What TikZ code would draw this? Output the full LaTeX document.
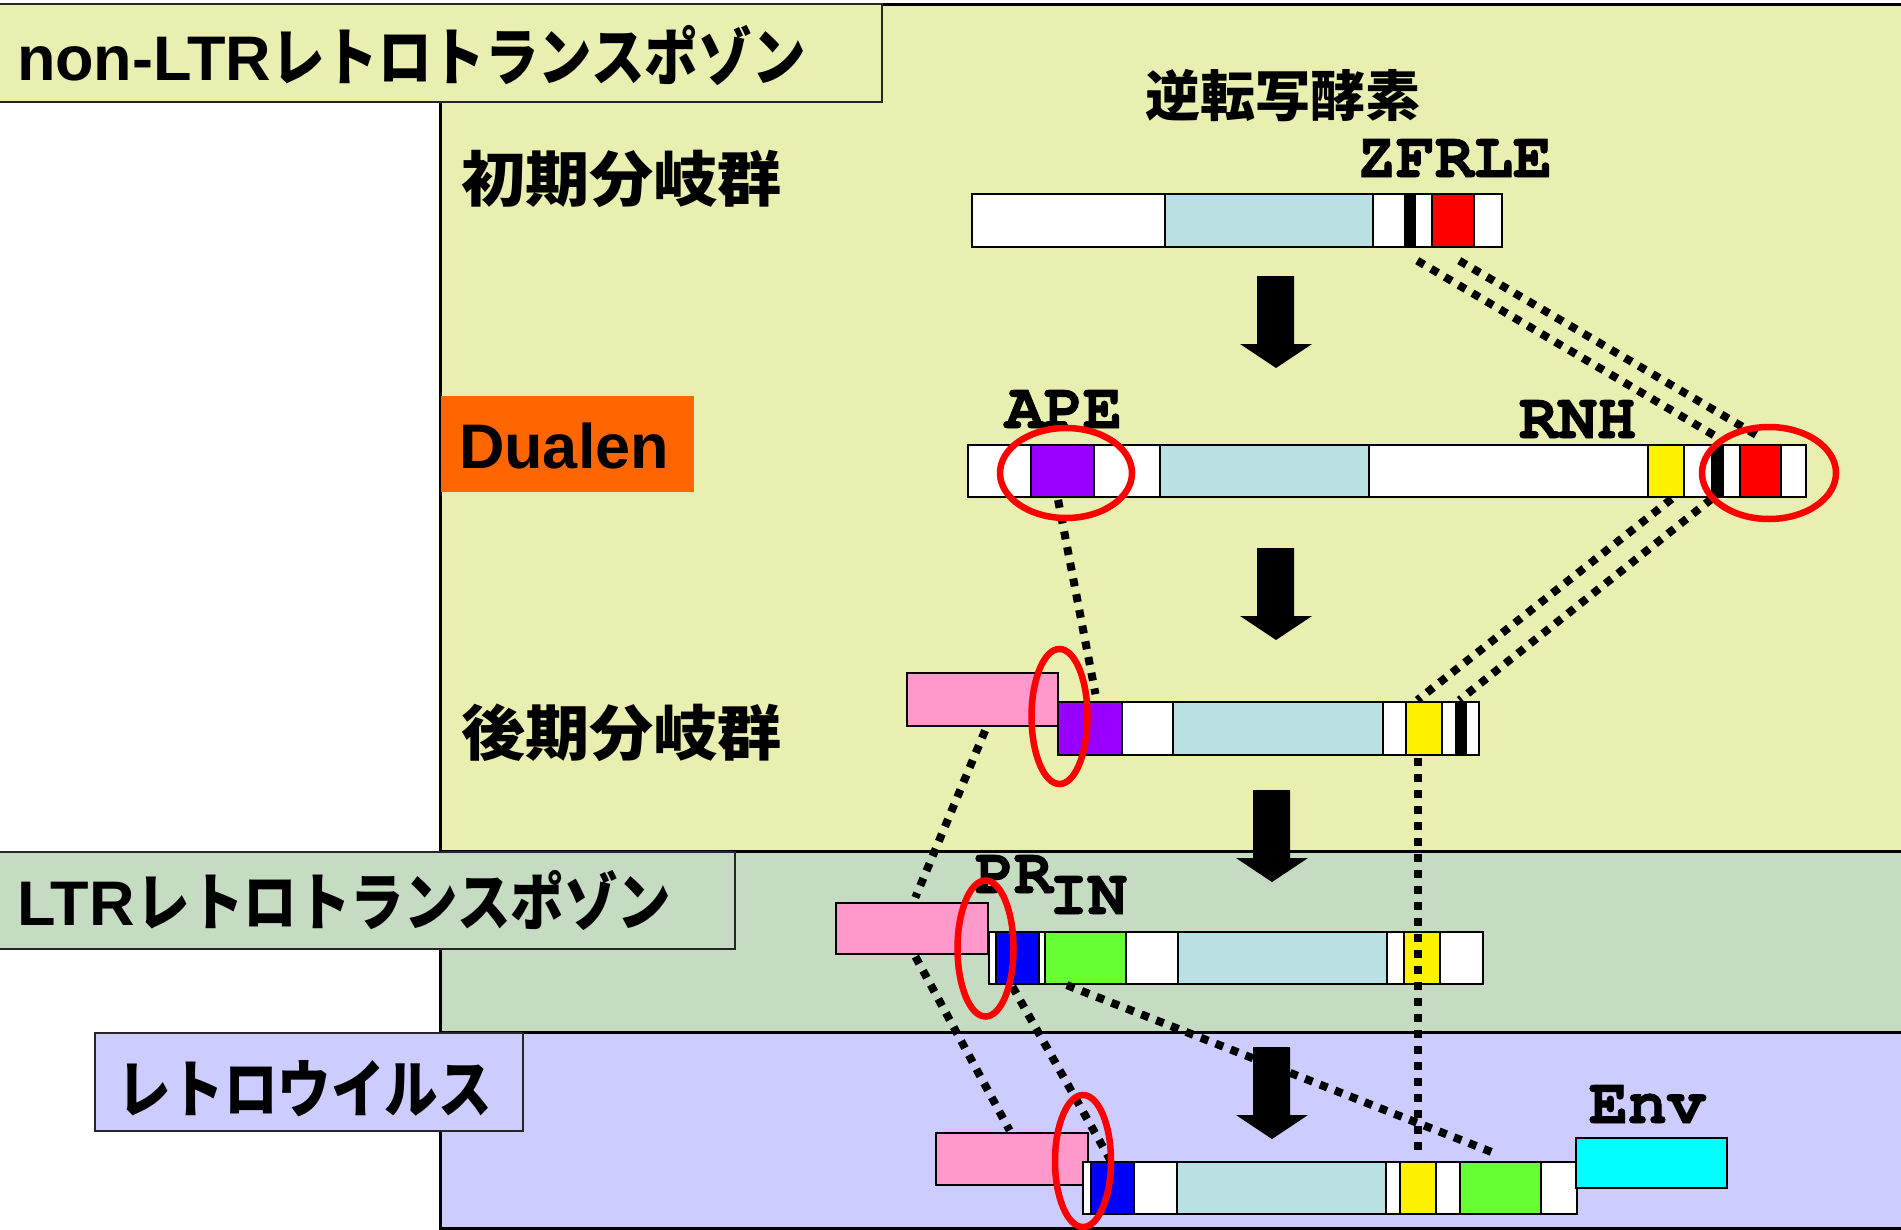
\documentclass[tikz,border=0pt]{standalone}
\usepackage{fontspec}
\setmainfont{Liberation Sans}
\newfontfamily\monofont[FakeBold=1.2]{texgyrecursor-bold.otf}
\newfontfamily\jpn{Noto Sans CJK JP}
\newfontfamily\jpnarrow[FakeStretch=0.85]{Noto Sans CJK JP}
\newfontfamily\jpwide[FakeStretch=1.07]{Noto Sans CJK JP}

\definecolor{ygreen}{HTML}{E9EFB0}
\definecolor{ltrgreen}{HTML}{C5DCC3}
\definecolor{rvblue}{HTML}{CCCCFF}
\definecolor{lblue}{HTML}{B9E0E3}
\definecolor{pinkbox}{HTML}{FF99CC}
\definecolor{purp}{HTML}{9900FF}
\definecolor{dualenorange}{HTML}{FF6600}
\definecolor{limegreen}{HTML}{66FF33}
\definecolor{envcyan}{HTML}{00FFFF}

\tikzset{
  panel/.style={draw=black, line width=3pt},
  labelbox/.style={draw=black!85, line width=2pt},
  seg/.style={draw=black, line width=2pt, inner sep=0pt, outer sep=0pt, anchor=north west},
  dotline/.style={line width=8pt, dash pattern=on 8pt off 8pt},
  redring/.style={draw=red, line width=6.5pt},
  txt/.style={anchor=base west, inner sep=0pt, outer sep=0pt},
  grouptitle/.style={txt, font=\fontsize{63pt}{70pt}\selectfont\bfseries},
  monolabel/.style={txt, font=\fontsize{65pt}{70pt}\selectfont\monofont},
  downarrow/.pic={\fill[black] (-19,0) -- (18,0) -- (18,68) -- (36,68) -- (0,92) -- (-36,68) -- (-19,68) -- cycle;}
}

\begin{document}
\begin{tikzpicture}[x=1pt, y=-1pt]
\useasboundingbox (0,0) rectangle (1901,1229);
\fill[white] (0,0) rectangle (1901,1229);

% background panels for the three groups
\draw[panel, fill=ygreen] (440,4) rectangle (1910,1228);
\draw[panel, fill=ltrgreen] (440,851) rectangle (1910,1032);
\draw[panel, fill=rvblue] (440,1032) rectangle (1910,1228);

% group title boxes
\draw[labelbox, fill=ygreen] (-3,4) rectangle (882,102);
\draw[labelbox, fill=ltrgreen] (-3,852) rectangle (735,949);
\draw[labelbox, fill=rvblue] (95,1033) rectangle (523,1131);
\fill[dualenorange] (441,396) rectangle (694,492);

\node[grouptitle] (ttlnonltr) at (17,80) {non-LTR{\jpnarrow レトロトランスポゾン}};
\node[grouptitle] (ttlltr) at (17,925) {LTR\hspace{2pt}{\jpnarrow レトロトランスポゾン}};
\node[grouptitle] (ttlrv) at (117,1112) {\jpnarrow レトロウイルス};
\node[grouptitle] (ttldualen) at (459,468) {Dualen};
\node[txt, font=\fontsize{60pt}{66pt}\selectfont\bfseries\jpwide] (early) at (461,201) {初期分岐群};
\node[txt, font=\fontsize{60pt}{66pt}\selectfont\bfseries\jpwide] (late) at (461,755) {後期分岐群};
\node[txt, font=\fontsize{55pt}{60pt}\selectfont\bfseries\jpn] (rt) at (1145,116) {逆転写酵素};

% ORF bars, segment by segment
\foreach \a/\b/\c/\n in {972/1165/white/tbA, 1165/1373/lblue/tbL, 1373/1405/white/tbB,
    1405/1415/black/tbK, 1415/1432/white/tbC, 1432/1474/red/tbR, 1474/1502/white/tbD}
  \node[seg, fill=\c, minimum width={(\b-\a)*1pt}, minimum height=53pt] (\n) at (\a,194) {};

\foreach \a/\b/\c/\n in {968/1031/white/duA, 1031/1094/purp/duP, 1094/1160/white/duB,
    1160/1369/lblue/duL, 1369/1648/white/duC, 1648/1684/yellow/duY, 1684/1712/white/duD,
    1712/1723/black/duK, 1723/1740/white/duE, 1740/1781/red/duR, 1781/1806/white/duF}
  \node[seg, fill=\c, minimum width={(\b-\a)*1pt}, minimum height=52pt] (\n) at (\a,445) {};

\node[seg, fill=pinkbox, minimum width=151pt, minimum height=53pt] (ltPk) at (907,673) {};
\foreach \a/\b/\c/\n in {1058/1122/purp/ltP, 1122/1173/white/ltA, 1173/1383/lblue/ltL,
    1383/1406/white/ltB, 1406/1442/yellow/ltY, 1442/1456/white/ltC, 1456/1466/black/ltK,
    1466/1479/white/ltD}
  \node[seg, fill=\c, minimum width={(\b-\a)*1pt}, minimum height=53pt] (\n) at (\a,702) {};

\node[seg, fill=pinkbox, minimum width=152pt, minimum height=51pt] (lrPk) at (836,903) {};
\foreach \a/\b/\c/\n in {989/996/white/lrA, 996/1039/blue/lrB, 1039/1045/white/lrC,
    1045/1126/limegreen/lrG, 1126/1178/white/lrD, 1178/1387/lblue/lrL, 1387/1404/white/lrE,
    1404/1440/yellow/lrY, 1440/1483/white/lrF}
  \node[seg, fill=\c, minimum width={(\b-\a)*1pt}, minimum height=52pt] (\n) at (\a,932) {};

\node[seg, fill=pinkbox, minimum width=152pt, minimum height=52pt] (rvPk) at (936,1133) {};
\foreach \a/\b/\c/\n in {1083/1091/white/rvA, 1091/1134/blue/rvB, 1134/1177/white/rvC,
    1177/1386/lblue/rvL, 1386/1400/white/rvD, 1400/1436/yellow/rvY, 1436/1460/white/rvE,
    1460/1541/limegreen/rvG, 1541/1577/white/rvF}
  \node[seg, fill=\c, minimum width={(\b-\a)*1pt}, minimum height=52pt] (\n) at (\a,1162) {};
\node[seg, fill=envcyan, minimum width=151pt, minimum height=50pt] (env) at (1576,1138) {};

% homologous domains linked between stages
\draw[dotline, shorten <=27pt, shorten >=18pt] ([xshift=-16pt]tbK.south) -- ([xshift=13pt]duK.north);
\draw[dotline, shorten <=27pt, shorten >=20pt] ([xshift=-17pt]tbR.south) -- ([xshift=13pt]duR.north);
\draw[dotline, shorten <=3pt, shorten >=3pt] ([xshift=8pt]duY.south) -- ([xshift=-9pt]ltY.north);
\draw[dotline, shorten <=3pt, shorten >=3pt] ([xshift=-3.5pt]duK.south) -- ([xshift=-4pt]ltK.north);
\draw[dotline, shorten <=3pt, shorten >=8pt] ([xshift=-5pt]duP.south) -- ([xshift=7pt]ltP.north);
\draw[dotline, shorten <=5pt, shorten >=6pt] ([xshift=4.5pt]ltPk.south) -- ([xshift=1pt]lrPk.north);
\draw[dotline, shorten <=3pt, shorten >=3pt] ([xshift=2pt]lrPk.south) -- ([xshift=-1pt]rvPk.north);
\draw[dotline, shorten <=3pt, shorten >=3pt] ([xshift=-6.5pt]lrB.south) -- ([xshift=-1pt]rvB.north);
\draw[dotline, shorten <=3pt, shorten >=24pt] ([xshift=-21.5pt]lrG.south) -- ([xshift=16.5pt]rvG.north);
\draw[dotline, shorten <=3pt, shorten >=7pt] ([xshift=-6pt]ltY.south) -- (rvY.north);

% block arrows between stages
\pic (arrA) at (1276,276) {downarrow};
\pic (arrB) at (1276,548) {downarrow};
\pic (arrC) at (1272,790) {downarrow};
\pic (arrD) at (1272,1047) {downarrow};

% domain labels
\node[monolabel] (lzf) at (1357,177) {ZFRLE};
\node[monolabel] (lape) at (1005,428) {APE};
\node[monolabel] (lrnh) at (1519,438) {RNH};
\node[monolabel] (lpr) at (975,893) {PR};
\node[monolabel] (lin) at (1049,914) {IN};
\node[monolabel] (lenv) at (1589,1123) {Env};

% highlighted gains
\draw[redring] (1066,473) ellipse [x radius=66pt, y radius=45pt];
\draw[redring] (1769,473) ellipse [x radius=67pt, y radius=46pt];
\draw[redring] (1059.5,716.5) ellipse [x radius=28pt, y radius=67.5pt];
\draw[redring] (985.5,948.5) ellipse [x radius=28pt, y radius=68pt];
\draw[redring] (1083,1161) ellipse [x radius=28pt, y radius=66pt];
\end{tikzpicture}
\end{document}
